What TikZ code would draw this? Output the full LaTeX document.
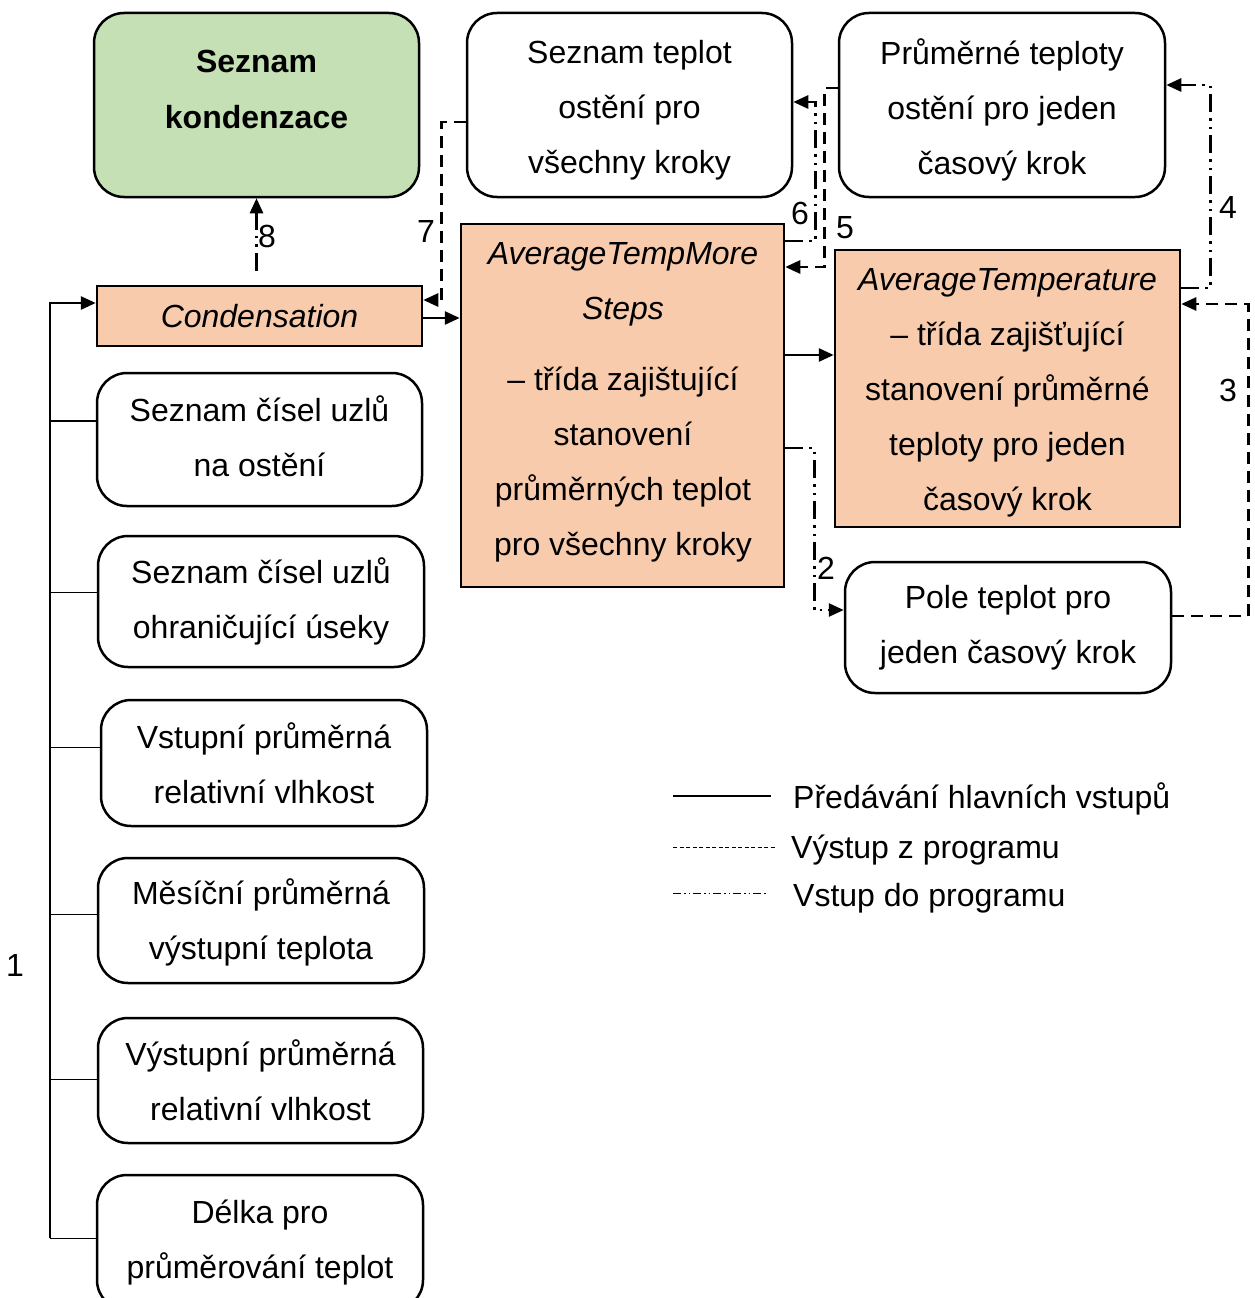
\documentclass[tikz,border=0pt]{standalone}
\usepackage{fontspec}
\setmainfont{Liberation Sans}
\usetikzlibrary{arrows.meta}
\definecolor{orangefill}{HTML}{F8CBAD}
\definecolor{greenfill}{HTML}{C5E0B4}
\begin{document}
\begin{tikzpicture}[x=1pt,y=-1pt,
 every node/.style={font=\fontsize{32}{55}\selectfont},
 roundbox/.style={draw, line width=2.5pt, rounded corners=30pt, align=center, inner sep=0pt},
 classbox/.style={draw, line width=2.5pt, fill=orangefill, align=center, inner sep=0pt},
 txt/.style={align=center, inner sep=0pt},
 arr/.style={-{Triangle[length=15pt,width=13pt]}},
 mainline/.style={line width=2.7pt},
 thinline/.style={line width=1pt},
 outdash/.style={line width=2.7pt, dash pattern=on 12pt off 7pt},
 indash/.style={line width=2.7pt, dash pattern=on 18pt off 6pt on 2.5pt off 6pt on 2.5pt off 6pt},
 lbl/.style={inner sep=0pt}]
\useasboundingbox (0,0) rectangle (1254,1298);

% top row
\node[roundbox, fill=greenfill, minimum width=325pt, minimum height=184pt] (sk) at (256.5,105) {};
\node[txt, font=\fontsize{32}{56}\selectfont\bfseries] (skt) at (256.5,89) {Seznam\\kondenzace};
\node[roundbox, minimum width=325pt, minimum height=184pt] (st) at (629.5,105) {};
\node[txt] (stt) at (629.5,110) {Seznam teplot\\ostění pro\\všechny kroky};
\node[roundbox, minimum width=326pt, minimum height=184pt] (pt) at (1002,105) {};
\node[txt] (ptt) at (1002,110) {Průměrné teploty\\ostění pro jeden\\časový krok};

% class boxes
\node[classbox, minimum width=325pt, minimum height=60pt] (cond) at (259.5,316) {\itshape Condensation};
\node[classbox, minimum width=323pt, minimum height=363pt] (atms) at (622.5,405.5) {};
\node[txt] (atmst) at (623,402.5) {\itshape AverageTempMore\\\itshape Steps\\[16pt]– třída zajištující\\stanovení\\průměrných teplot\\pro všechny kroky};
\node[classbox, minimum width=345pt, minimum height=277pt] (at) at (1007.5,388.5) {};
\node[txt] (att) at (1007.5,392.5) {\itshape AverageTemperature\\– třída zajišťující\\stanovení průměrné\\teploty pro jeden\\časový krok};
\node[roundbox, minimum width=326pt, minimum height=131pt] (pole) at (1008,627.5) {Pole teplot pro\\jeden časový krok};

% left input boxes
\node[roundbox, minimum width=325pt, minimum height=133pt] (n1) at (259.5,439.5) {};
\node[txt] (n1t) at (259.5,436) {Seznam čísel uzlů\\na ostění};
\node[roundbox, minimum width=326pt, minimum height=131pt] (n2) at (261,601.5) {Seznam čísel uzlů\\ohraničující úseky};
\node[roundbox, minimum width=326pt, minimum height=126pt] (n3) at (264,763) {Vstupní průměrná\\relativní vlhkost};
\node[roundbox, minimum width=326pt, minimum height=125pt] (n4) at (261,920.5) {};
\node[txt] (n4t) at (261,922.5) {Měsíční průměrná\\výstupní teplota};
\node[roundbox, minimum width=325pt, minimum height=125pt] (n5) at (260.5,1080.5) {Výstupní průměrná\\relativní vlhkost};
\node[roundbox, minimum width=326pt, minimum height=135pt] (n6) at (260,1242.5) {Délka pro\\průměrování teplot};

% left bus
\coordinate (bustop) at (50,303);
\coordinate (busbot) at (50,1238);
\coordinate (b1) at (50,421);
\coordinate (b2) at (50,592);
\coordinate (b3) at (50,747);
\coordinate (b4) at (50,914);
\coordinate (b5) at (50,1079);
\draw[mainline, arr] (busbot) -- (bustop) -- (bustop -| cond.west);
\draw[mainline] (b1) -- (b1 -| n1.west);
\draw[thinline] (b2) -- (b2 -| n2.west);
\draw[thinline] (b3) -- (b3 -| n3.west);
\draw[thinline] (b4) -- (b4 -| n4.west);
\draw[thinline] (b5) -- (b5 -| n5.west);
\draw[thinline] (busbot) -- (busbot -| n6.west);
\node[lbl] (l1) at (15,965) {1};

% main flows
\draw[mainline, arr] ([yshift=-2pt]cond.east) -- ([yshift=-2pt]cond.east -| atms.west);
\draw[mainline, arr] ([yshift=50.5pt]atms.east) -- ([yshift=50.5pt]atms.east -| at.west);

% 2: input to Pole
\draw[indash, arr] ([yshift=-42.5pt]atms.east) -- ++(29,0) |- ([yshift=17.5pt]pole.west);
\node[lbl] (l2) at (826,568) {2};
% 3: output to AverageTemperature
\draw[outdash, arr] ([yshift=11.5pt]pole.east) -- ++(76,0) |- ([yshift=84.5pt]at.east);
\node[lbl] (l3) at (1228,390) {3};
% 4: input to Prumerne teploty
\draw[indash, arr] ([yshift=100.5pt]at.east) -- ++(29,0) |- ([yshift=20pt]pt.east);
\node[lbl] (l4) at (1228,207) {4};
% 5: output to ATMS
\draw[outdash, arr] ([yshift=17pt]pt.west) -- ++(-13,0) |- ([yshift=138.5pt]atms.east);
\node[lbl] (l5) at (845,228) {5};
% 6: input to Seznam teplot
\draw[indash, arr] ([yshift=164.5pt]atms.east) -- ++(30,0) |- ([yshift=3pt]st.east);
\node[lbl] (l6) at (800,213) {6};
% 7: output to Condensation
\draw[outdash, arr] ([yshift=-17pt]st.west) -- ++(-24,0) |- ([yshift=16pt]cond.east);
\node[lbl] (l7) at (426,231) {7};
% 8: input to Seznam kondenzace
\draw[indash, arr, shorten <=14pt] (sk.south |- cond.north) -- (sk.south);
\node[lbl] (l8) at (267,236) {8};

% legend
\coordinate (lg1a) at (673,796); \coordinate (lg1b) at (771,796);
\coordinate (lg2a) at (673,847); \coordinate (lg2b) at (775,847);
\coordinate (lg3a) at (673,893); \coordinate (lg3b) at (768,893);
\draw[line width=2pt] (lg1a) -- (lg1b);
\draw[line width=1pt, dash pattern=on 4pt off 2.5pt] (lg2a) -- (lg2b);
\draw[line width=1pt, dash pattern=on 8pt off 3pt on 1.5pt off 3pt on 1.5pt off 3pt] (lg3a) -- (lg3b);
\node[lbl, anchor=base west] (lt1) at (793,808) {Předávání hlavních vstupů};
\node[lbl, anchor=base west] (lt2) at (791,858) {Výstup z programu};
\node[lbl, anchor=base west] (lt3) at (793,906) {Vstup do programu};
\end{tikzpicture}
\end{document}
